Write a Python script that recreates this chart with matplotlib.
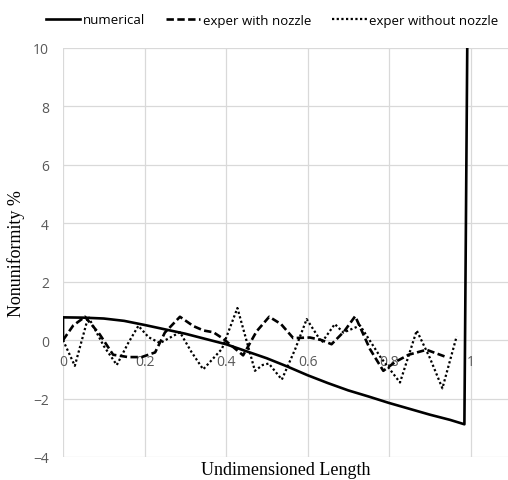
import matplotlib.pyplot as plt

# data
num_x = [0, 0, 0.05, 0.1, 0.15, 0.2, 0.25, 0.3, 0.35, 0.4, 0.45, 0.5, 0.55, 0.6,
         0.65, 0.7, 0.75, 0.8, 0.85, 0.9, 0.95, 0.985, 0.992]
num_y = [0, 0.78, 0.77, 0.74, 0.66, 0.52, 0.37, 0.22, 0.04, -0.14, -0.38, -0.62,
         -0.9, -1.2, -1.47, -1.72, -1.93, -2.15, -2.35, -2.55, -2.73, -2.88, 10]

noz_x = [0, 0.025, 0.054, 0.09, 0.123, 0.16, 0.193, 0.226, 0.25, 0.287, 0.32,
         0.345, 0.369, 0.393, 0.442, 0.475, 0.506, 0.535, 0.565, 0.606, 0.635,
         0.659, 0.69, 0.717, 0.753, 0.786, 0.815, 0.848, 0.892, 0.937]
noz_y = [0, 0.5, 0.8, 0.2, -0.5, -0.58, -0.58, -0.42, 0.26, 0.8, 0.48, 0.33,
         0.27, 0.05, -0.52, 0.3, 0.8, 0.55, 0.07, 0.09, 0.0, -0.14, 0.3, 0.82,
         -0.3, -1.05, -0.75, -0.5, -0.33, -0.56]

wo_x = [0, 0.029, 0.062, 0.1, 0.132, 0.16, 0.185, 0.21, 0.238, 0.287, 0.315,
        0.344, 0.39, 0.428, 0.45, 0.471, 0.49, 0.505, 0.537, 0.57, 0.598, 0.635,
        0.667, 0.688, 0.729, 0.78, 0.827, 0.868, 0.9, 0.931, 0.966]
wo_y = [0, -0.88, 0.8, -0.2, -0.85, -0.1, 0.49, 0.1, -0.1, 0.27, -0.4, -1.0,
        -0.3, 1.1, 0.0, -1.05, -0.85, -0.8, -1.35, -0.3, 0.72, -0.08, 0.55, 0.26,
        0.5, -0.6, -1.45, 0.33, -0.6, -1.65, 0.13]

x_ticks = [0, 0.2, 0.4, 0.6, 0.8, 1]
x_labels = ['0', '0.2', '0.4', '0.6', '0.8', '1']
y_ticks = [-4, -2, 0, 2, 4, 6, 8, 10]

fig = plt.figure(figsize=(5.08, 4.81), dpi=100)
ax = fig.add_axes([63 / 508, 1 - 458 / 481, 1 - 63 / 508, (458 - 49) / 481])

ax.plot(num_x, num_y, color='black', lw=1.9, label='numerical', solid_joinstyle='round')
ax.plot(noz_x, noz_y, color='black', lw=1.9, dashes=(2.8, 1.3), label='exper with nozzle')
ax.plot(wo_x, wo_y, color='black', lw=1.6, dashes=(1, 1.1), label='exper without nozzle')

ax.set_xlim(0, 1.092)
ax.set_ylim(-4, 10)
ax.set_xticks(x_ticks)
ax.set_xticklabels(x_labels)
ax.set_yticks(y_ticks)
ax.grid(True, color='#d9d9d9', lw=0.9)
ax.set_axisbelow(True)
for s in ax.spines.values():
    s.set_visible(False)
ax.spines['bottom'].set_position(('data', 0))
ax.tick_params(length=0, labelsize=10, labelcolor='#595959')
ax.tick_params(axis='x', pad=10)
ax.tick_params(axis='y', pad=10)
for t in ax.get_xticklabels() + ax.get_yticklabels():
    t.set_family('Open Sans')

ax.set_xlabel('Undimensioned Length', family='Liberation Serif', fontsize=13)
ax.xaxis.set_label_coords(0.5, -0.01)
ax.set_ylabel('Nonuniformity %', family='Liberation Serif', fontsize=13, labelpad=6)

fig.legend(loc='center', bbox_to_anchor=(272 / 508, 1 - 21 / 481), ncol=3,
           frameon=False, prop={'family': 'Open Sans', 'size': 9.5},
           handlelength=2.6, handletextpad=0.2, columnspacing=1.6)

fig.savefig('out.png', dpi=100)
